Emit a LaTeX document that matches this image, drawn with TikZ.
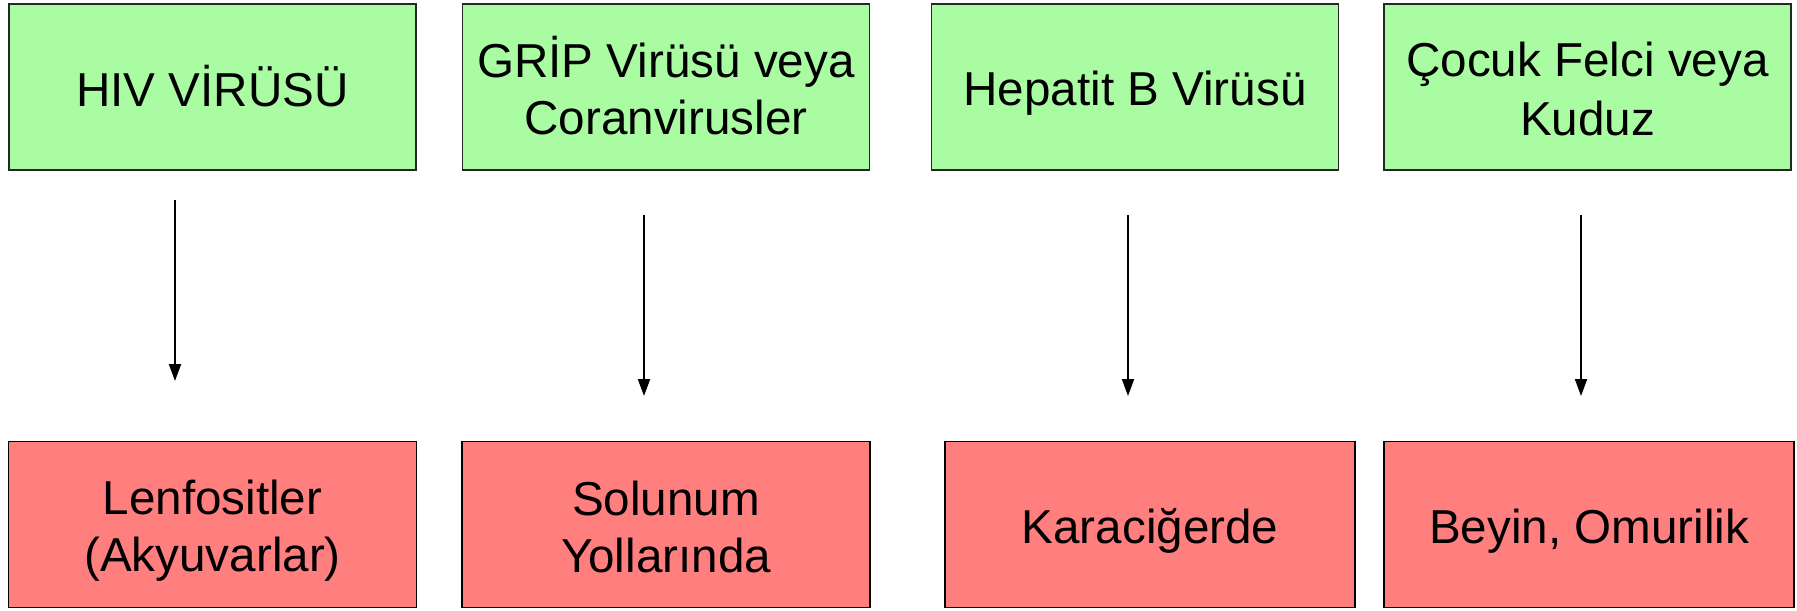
\documentclass[tikz,border=0pt]{standalone}
\usepackage{fontspec}
\setmainfont{Liberation Sans}
\usetikzlibrary{arrows.meta}
\definecolor{boxgreen}{RGB}{170,252,162}
\definecolor{boxred}{RGB}{255,126,126}
\newcommand{\lnstrut}{\rule[-4.2pt]{0pt}{27.7pt}}
\tikzset{
  boxtext/.style={inner xsep=2pt, inner ysep=0pt, align=center, font=\fontsize{23.8}{28.5}\selectfont},
  virusbox/.style={boxtext, draw=black!85, line width=0.8pt, fill=boxgreen, minimum width=203.5pt, minimum height=83pt},
  organbox/.style={boxtext, draw=black, line width=0.8pt, fill=boxred, minimum width=204pt, minimum height=83pt},
  arr/.style={line width=1pt, -{Triangle[length=8.5pt, width=6pt]}}
}
\begin{document}
\begin{tikzpicture}[x=0.5pt, y=-0.5pt]
\useasboundingbox (0,0) rectangle (1797,610);
% top row
\node[virusbox] (v1) at (212.5,86.75) {\lnstrut HIV VİRÜSÜ};
\node[virusbox] (v2) at (666,86.75) {\lnstrut GRİP Virüsü veya\\\lnstrut Coranvirusler};
\node[virusbox] (v3) at (1135,86.75) {\lnstrut Hepatit B Virüsü};
\node[virusbox] (v4) at (1587.5,86.75) {\lnstrut Çocuk Felci veya\\\lnstrut Kuduz};
% bottom row
\node[organbox] (o1) at (212.5,524.5) {\lnstrut Lenfositler\\\lnstrut (Akyuvarlar)};
\node[organbox] (o2) at (666,524.5) {\lnstrut Solunum\\\lnstrut Yollarında};
\node[organbox, minimum width=205pt] (o3) at (1150,524.5) {\lnstrut Karaciğerde};
\node[organbox, minimum width=205pt] (o4) at (1589,524.5) {\lnstrut Beyin, Omurilik};
% arrow ends
\coordinate (a1s) at (175,200);
\coordinate (a1e) at (175,381);
\coordinate (a2s) at (644,215);
\coordinate (a2e) at (644,396);
\coordinate (a3s) at (1128,215);
\coordinate (a3e) at (1128,396);
\coordinate (a4s) at (1581,215);
\coordinate (a4e) at (1581,396);
\draw[arr] (a1s) -- (a1e);
\draw[arr] (a2s) -- (a2e);
\draw[arr] (a3s) -- (a3e);
\draw[arr] (a4s) -- (a4e);
\end{tikzpicture}
\end{document}
